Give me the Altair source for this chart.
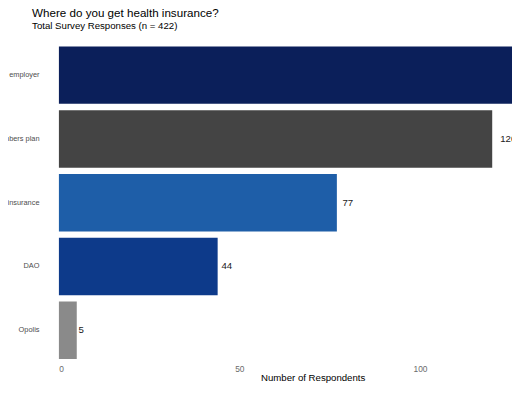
import altair as alt
import pandas as pd

SOURCES = [
    "Through my employer",
    "Spouse / family members plan",
    "Private insurance",
    "DAO",
    "Opolis",
]
RESPONDENTS = [176, 120, 77, 44, 5]
BAR_COLORS = ["#0b1f5a", "#444444", "#1e5ea8", "#0d3a8a", "#8a8a8a"]

FONT = "Liberation Sans"
PX_PER_UNIT = 3.67
PLOT_WIDTH = 460.5
PLOT_HEIGHT = 324

df = pd.DataFrame({"source": SOURCES, "n": RESPONDENTS})

y_enc = alt.Y(
    "source:N",
    sort=SOURCES,
    title=None,
    scale=alt.Scale(paddingInner=0.1, paddingOuter=0.05),
    axis=alt.Axis(
        ticks=False,
        domain=False,
        grid=False,
        labelPadding=20,
        labelFontSize=7.5,
        labelColor="#4d4d4d",
        labelFont=FONT,
        labelLimit=400,
    ),
)

x_scale = alt.Scale(domain=[0, PLOT_WIDTH / PX_PER_UNIT], nice=False, zero=True)

bars = (
    alt.Chart(df)
    .mark_bar(clip=True)
    .encode(
        x=alt.X(
            "n:Q",
            scale=x_scale,
            axis=alt.Axis(
                values=[0, 50, 100],
                ticks=False,
                tickSize=0,
                domain=False,
                grid=False,
                labelPadding=9.5,
                labelBaseline="alphabetic",
                labelFontSize=8.5,
                labelColor="#6b6b6b",
                labelFont=FONT,
                title="Number of Respondents",
                titleFont=FONT,
                titleFontSize=9.8,
                titleFontWeight="normal",
                titleColor="#000000",
                titleX=258,
                titleY=19,
                titleAlign="center",
                titleBaseline="alphabetic",
            ),
        ),
        y=y_enc,
        color=alt.Color(
            "source:N",
            scale=alt.Scale(domain=SOURCES, range=BAR_COLORS),
            legend=None,
        ),
    )
)

labels = (
    alt.Chart(df)
    .transform_calculate(pos="datum.n * 1.015")
    .mark_text(
        clip=True,
        align="left",
        baseline="middle",
        dx=1.5,
        font=FONT,
        fontSize=9.8,
        color="#1a1a1a",
    )
    .encode(
        x=alt.X("pos:Q", scale=x_scale),
        y=y_enc,
        text="n:Q",
    )
)

chart = (
    alt.layer(bars, labels)
    .properties(
        width=PLOT_WIDTH,
        height=PLOT_HEIGHT,
        autosize=alt.AutoSizeParams(type="none"),
        padding={"left": 51.5, "top": 32.8, "right": 0, "bottom": 21.2},
        title=alt.TitleParams(
            "Where do you get health insurance?",
            subtitle="Total Survey Responses (n = 422)",
            anchor="start",
            frame="group",
            dx=-27,
            offset=12.5,
            font=FONT,
            fontSize=11.8,
            fontWeight="normal",
            color="#000000",
            subtitleFont=FONT,
            subtitleFontSize=9.8,
            subtitleFontWeight="normal",
            subtitleColor="#000000",
            subtitlePadding=2,
        ),
    )
    .configure_view(stroke=None)
)

chart.save("out.html", embed_options={"renderer": "svg", "actions": False})
